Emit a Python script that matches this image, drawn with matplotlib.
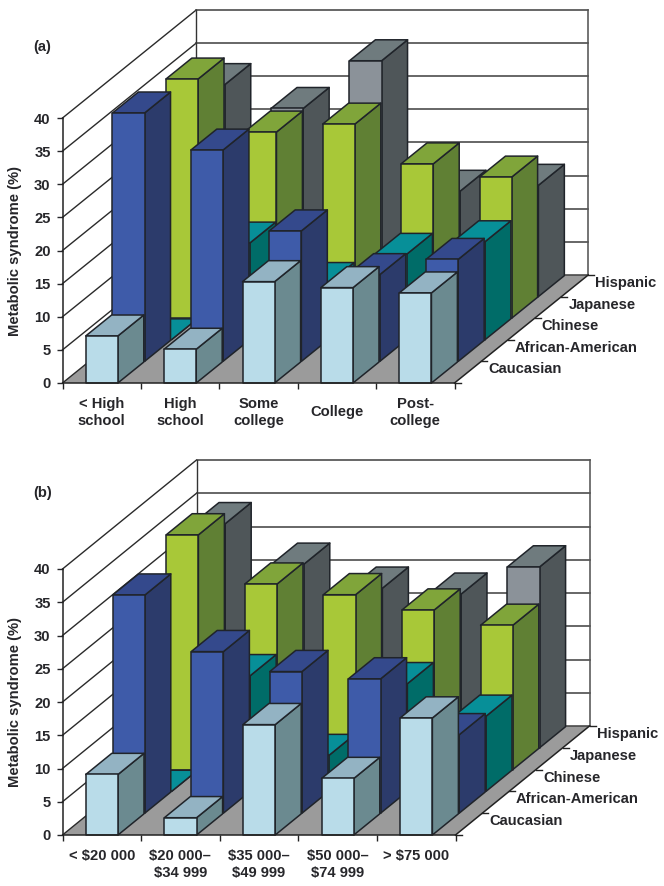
import matplotlib
matplotlib.use("Agg")
import matplotlib.pyplot as plt
from matplotlib.patches import Polygon

plt.rcParams['font.family'] = ['Liberation Sans', 'DejaVu Sans']
plt.rcParams['font.weight'] = 'bold'

W, H = 664, 886
INK = '#26262a'
FS = 10.6

series = ['Caucasian', 'African-American', 'Chinese', 'Japanese', 'Hispanic']

labels_a = ['< High\nschool', 'High\nschool', 'Some\ncollege', 'College', 'Post-\ncollege']
caucasian_a = [7.1, 5.1, 15.3, 14.4, 13.6]
african_american_a = [37.5, 31.9, 19.7, 13.1, 15.4]
chinese_a = [0.0, 14.6, 8.5, 12.9, 14.8]
japanese_a = [36.1, 28.1, 29.3, 23.3, 21.3]
hispanic_a = [32.0, 28.4, 35.6, 15.9, 16.8]

labels_b = ['< $20 000', '$20 000–\n$34 999', '$35 000–\n$49 999', '$50 000–\n$74 999', '> $75 000']
caucasian_b = [9.1, 2.6, 16.6, 8.5, 17.6]
african_american_b = [32.8, 24.3, 21.3, 20.2, 11.8]
chinese_b = [0.0, 17.4, 5.4, 16.2, 11.3]
japanese_b = [35.3, 27.9, 26.3, 24.0, 21.7]
hispanic_b = [33.7, 27.6, 24.0, 23.1, 27.2]

# (front, top, side) colours per series
face_colors = [
    ('#b9dce9', '#93b3c3', '#6b8a90'),
    ('#3e5ba9', '#34498c', '#2c3b6b'),
    ('#00929c', '#078f98', '#006c68'),
    ('#a8c838', '#80a53a', '#608034'),
    ('#8b9299', '#6f7b7e', '#4f5659'),
]

fig = plt.figure(figsize=(W / 100, H / 100), dpi=100, facecolor='white')


def panel(left, right, y0, y40, depth_px, tag, tag_y, labels, rows, center_labels):
    ax = fig.add_axes([left / W, 1 - y0 / H, (right - left) / W, (y0 - y40) / H])
    ax.set_xlim(0, 5)
    ax.set_ylim(0, 40)
    ax.patch.set_visible(False)
    px_x = (right - left) / 5
    px_z = (y0 - y40) / 40
    step_x = depth_px[0] / 5 / px_x
    step_z = depth_px[1] / 5 / px_z

    def proj(x, d, z):
        return (x + d * step_x, z + d * step_z)

    def seg(p, q, color=INK, lw=1.0, z=1):
        ax.plot([p[0], q[0]], [p[1], q[1]], color=color, lw=lw, clip_on=False,
                zorder=z, solid_capstyle='projecting')

    # floor
    ax.add_patch(Polygon([proj(0, 0, 0), proj(5, 0, 0), proj(5, 5, 0), proj(0, 5, 0)],
                         closed=True, fc='#9b9b9b', ec='none', clip_on=False, zorder=0.5))
    # walls
    for v in range(0, 45, 5):
        seg(proj(0, 0, v), proj(0, 5, v), color='#2a2a2a', lw=1.0)
        seg(proj(0, 5, v), proj(5, 5, v), color='#454545', lw=1.15)
    seg(proj(0, 5, 0), proj(0, 5, 40), color='#333333', lw=1.0)
    seg(proj(5, 5, 0), proj(5, 5, 40), color='#555555', lw=1.15)
    seg(proj(5, 0, 0), proj(5, 5, 0), color='#222222', lw=1.1, z=1.6)

    # bars, back row first
    bx0, bw, fill = 0.296, 0.41, 0.97
    for r in range(4, -1, -1):
        fc, tc, sc = face_colors[r]
        for c, val in enumerate(rows[r]):
            x0, x1 = c + bx0, c + bx0 + bw
            d0, d1 = r, r + fill
            kw = dict(closed=True, ec='#20242a', lw=1.1, clip_on=False, zorder=2, joinstyle='round')
            ax.add_patch(Polygon([proj(x1, d0, 0), proj(x1, d1, 0), proj(x1, d1, val), proj(x1, d0, val)], fc=sc, **kw))
            ax.add_patch(Polygon([proj(x0, d0, val), proj(x1, d0, val), proj(x1, d1, val), proj(x0, d1, val)], fc=tc, **kw))
            ax.add_patch(Polygon([proj(x0, d0, 0), proj(x1, d0, 0), proj(x1, d0, val), proj(x0, d0, val)], fc=fc, **kw))

    # real axes
    for s in ('top', 'right'):
        ax.spines[s].set_visible(False)
    for s in ('left', 'bottom'):
        ax.spines[s].set_linewidth(1.1)
        ax.spines[s].set_color('#222222')
    ax.set_yticks(range(0, 45, 5))
    ax.tick_params(axis='y', length=4.4, width=1.0, pad=4.2, labelsize=FS, colors=INK)
    ax.set_xticks(range(0, 6))
    ax.set_xticklabels([])
    ax.tick_params(axis='x', which='major', length=4.6, width=1.0, color='#222222')
    ax.set_xticks([i + 0.5 for i in range(5)], minor=True)
    ax.set_xticklabels(labels, minor=True, linespacing=1.25)
    ax.tick_params(axis='x', which='minor', length=0, labelsize=FS, labelcolor=INK,
                   pad=21.0 if center_labels else 10.0)
    if center_labels:
        for t in ax.get_xminorticklabels():
            t.set_va('center')
    ax.set_ylabel('Metabolic syndrome (%)', fontsize=FS, color=INK, fontweight='bold', va='center')
    ax.yaxis.set_label_coords((15.5 - left) / (right - left), 0.5)

    # depth axis ticks and labels
    for d in range(0, 6):
        seg(proj(5, d, 0), proj(5 + 6 / px_x, d, 0), color='#222222', lw=1.0, z=1.6)
    for i, name in enumerate(series):
        ax.annotate(name, xy=proj(5, i + 1, 0), xytext=(7.0, -8), textcoords='offset pixels',
                    ha='left', va='center', fontsize=FS, color=INK, annotation_clip=False)

    fig.text(33 / W, 1 - tag_y / H, tag, fontsize=FS, color=INK, fontweight='bold',
             ha='left', va='center')


panel(62.5, 454.5, 383, 118, (133.7, 108), '(a)', 47, labels_a,
      [caucasian_a, african_american_a, chinese_a, japanese_a, hispanic_a], True)
panel(62.5, 455.5, 835, 569, (134, 109), '(b)', 493, labels_b,
      [caucasian_b, african_american_b, chinese_b, japanese_b, hispanic_b], False)

fig.savefig('out.png', dpi=100, facecolor='white')
